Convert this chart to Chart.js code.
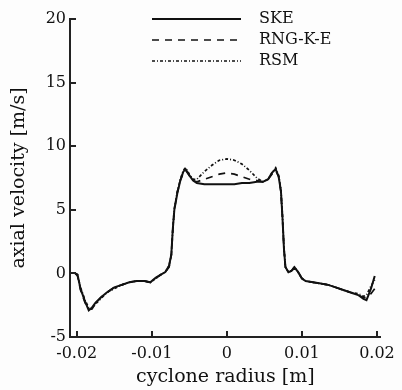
<!DOCTYPE html>
<html>
<head>
<meta charset="utf-8">
<script src="https://cdn.jsdelivr.net/npm/chart.js@4.4.1/dist/chart.umd.min.js"></script>
<style>
  html, body { margin: 0; padding: 0; background: #fdfdfd; }
  #wrap { width: 402px; height: 390px; position: relative; }
</style>
</head>
<body>
<div id="wrap"><canvas id="c" width="402" height="390"></canvas></div>
<script>
// Radial positions across the cyclone [m]
const radius = [
  -0.0202, -0.0199, -0.0195, -0.0189, -0.0184, -0.0180, -0.0175, -0.0168, -0.0160, -0.0150,
  -0.0140, -0.0130, -0.0120, -0.0110, -0.0102, -0.0095, -0.0088, -0.0082, -0.0077, -0.0074,
  -0.0072, -0.0070, -0.0066, -0.0062, -0.0058, -0.0055, -0.0050, -0.0045, -0.0040, -0.0030,
  -0.0020, -0.0010, 0.0000, 0.0010, 0.0020, 0.0030, 0.0040, 0.0048, 0.0055, 0.0060,
  0.0065, 0.0069, 0.0072, 0.0074, 0.0076, 0.0078, 0.0082, 0.0086, 0.0090, 0.0095,
  0.0100, 0.0105, 0.0115, 0.0125, 0.0135, 0.0145, 0.0155, 0.0165, 0.0175, 0.0182,
  0.0186, 0.0192, 0.0197
];

// Axial velocity [m/s] for each turbulence model
const ske = [
  0.0, -0.1, -1.2, -2.2, -2.9, -2.7, -2.3, -1.9, -1.5, -1.1,
  -0.9, -0.7, -0.6, -0.6, -0.7, -0.35, -0.1, 0.1, 0.6, 1.5,
  3.5, 5.0, 6.3, 7.3, 8.0, 8.2, 7.7, 7.3, 7.1, 7.0,
  7.0, 7.0, 7.0, 7.0, 7.1, 7.1, 7.2, 7.2, 7.4, 7.9,
  8.2, 7.6, 6.5, 4.5, 2.0, 0.5, 0.1, 0.2, 0.5, 0.1,
  -0.4, -0.6, -0.7, -0.8, -0.9, -1.1, -1.3, -1.5, -1.7, -2.0,
  -2.1, -1.2, -0.2
];
const rngKE = [
  0.0, -0.2, -1.3, -2.3, -2.8, -2.8, -2.4, -1.9, -1.5, -1.1,
  -0.9, -0.7, -0.6, -0.6, -0.7, -0.4, -0.1, 0.1, 0.5, 1.4,
  3.4, 5.0, 6.4, 7.3, 7.9, 8.1, 7.7, 7.3, 7.2, 7.4,
  7.6, 7.8, 7.9, 7.8, 7.6, 7.4, 7.3, 7.2, 7.4, 7.8,
  8.1, 7.6, 6.4, 4.4, 2.0, 0.5, 0.1, 0.2, 0.4, 0.1,
  -0.4, -0.6, -0.7, -0.8, -0.9, -1.1, -1.3, -1.5, -1.7, -1.9,
  -1.9, -1.6, -1.2
];
const rsm = [
  0.0, -0.1, -1.1, -2.1, -2.7, -2.8, -2.4, -2.0, -1.5, -1.2,
  -0.9, -0.7, -0.6, -0.6, -0.7, -0.4, -0.1, 0.1, 0.6, 1.5,
  3.6, 5.1, 6.4, 7.4, 8.1, 8.3, 7.8, 7.4, 7.4, 8.0,
  8.5, 8.9, 9.0, 8.9, 8.6, 8.1, 7.5, 7.2, 7.4, 7.9,
  8.3, 7.7, 6.6, 4.6, 2.1, 0.5, 0.1, 0.2, 0.5, 0.1,
  -0.4, -0.6, -0.7, -0.8, -0.9, -1.1, -1.3, -1.5, -1.6, -1.8,
  -1.7, -1.0, -0.5
];

const xTicks = [-0.02, -0.01, 0, 0.01, 0.02];
const xTickLabels = ['-0.02', '-0.01', '0', '0.01', '0.02'];
const yTicks = [-5, 0, 5, 10, 15, 20];

const seriesNames = ['SKE', 'RNG-K-E', 'RSM'];

const serif = '"DejaVu Serif", "Liberation Serif", serif';

function pts(ys) { return radius.map((r, i) => ({ x: r, y: ys[i] })); }

const styles = [
  { dash: [], width: 2 },
  { dash: [7, 6], width: 1.7 },
  { dash: [3, 2, 1, 2], width: 1.7 }
];

const datasets = [ske, rngKE, rsm].map((ys, i) => ({
  label: seriesNames[i],
  data: pts(ys),
  borderColor: '#111',
  borderWidth: styles[i].width,
  borderDash: styles[i].dash,
  pointRadius: 0,
  tension: 0,
  fill: false
}));

// Inward tick marks on both axes
const inwardTicks = {
  id: 'inwardTicks',
  afterDraw(chart) {
    const { ctx, scales: { x, y }, chartArea: a } = chart;
    ctx.save();
    ctx.strokeStyle = '#222';
    ctx.lineWidth = 2;
    ctx.beginPath();
    xTicks.forEach(v => {
      const px = Math.round(x.getPixelForValue(v));
      ctx.moveTo(px, a.bottom);
      ctx.lineTo(px, a.bottom - 6);
    });
    yTicks.forEach(v => {
      const py = Math.round(y.getPixelForValue(v));
      ctx.moveTo(a.left, py);
      ctx.lineTo(a.left + 6, py);
    });
    ctx.stroke();
    ctx.restore();
  }
};

// Legend with line samples, top right
const lineLegend = {
  id: 'lineLegend',
  afterDraw(chart) {
    const { ctx } = chart;
    const x0 = 152, x1 = 241, tx = 259;
    const rows = [19, 40, 61];
    ctx.save();
    chart.data.datasets.forEach((ds, i) => {
      ctx.strokeStyle = '#111';
      ctx.lineWidth = ds.borderWidth;
      ctx.setLineDash(ds.borderDash);
      ctx.beginPath();
      ctx.moveTo(x0, rows[i]);
      ctx.lineTo(x1, rows[i]);
      ctx.stroke();
      ctx.setLineDash([]);
      ctx.fillStyle = '#111';
      ctx.font = '16px ' + serif;
      ctx.textBaseline = 'middle';
      ctx.textAlign = 'left';
      ctx.fillText(ds.label, tx, rows[i]);
    });
    ctx.restore();
  }
};

new Chart(document.getElementById('c'), {
  type: 'line',
  data: { datasets },
  options: {
    responsive: false,
    animation: false,
    devicePixelRatio: 1,
    layout: { padding: { top: 19, right: 17, left: 0, bottom: 0 } },
    plugins: { legend: { display: false }, tooltip: { enabled: false } },
    scales: {
      x: {
        type: 'linear',
        min: -0.0209,
        max: 0.0205,
        afterBuildTicks(scale) { scale.ticks = xTicks.map(v => ({ value: v })); },
        afterFit(scale) { scale.height = 53; },
        grid: { display: false, drawTicks: false },
        border: { display: true, color: '#222', width: 2 },
        ticks: {
          color: '#111',
          font: { family: serif, size: 16 },
          padding: 7,
          maxRotation: 0,
          autoSkip: false,
          callback(v) { const i = xTicks.indexOf(v); return i >= 0 ? xTickLabels[i] : ''; }
        },
        title: {
          display: true,
          text: 'cyclone radius [m]',
          color: '#111',
          font: { family: serif, size: 19 },
          padding: { top: 0, bottom: 2 }
        }
      },
      y: {
        type: 'linear',
        min: -5,
        max: 20,
        afterBuildTicks(scale) { scale.ticks = yTicks.map(v => ({ value: v })); },
        afterFit(scale) { scale.width = 70; },
        grid: { display: false, drawTicks: false },
        border: { display: true, color: '#222', width: 2 },
        ticks: {
          color: '#111',
          font: { family: serif, size: 16 },
          padding: 4
        },
        title: {
          display: true,
          text: 'axial velocity [m/s]',
          color: '#111',
          font: { family: serif, size: 19 },
          padding: { top: 8, bottom: 0 }
        }
      }
    }
  },
  plugins: [inwardTicks, lineLegend]
});
</script>
</body>
</html>
